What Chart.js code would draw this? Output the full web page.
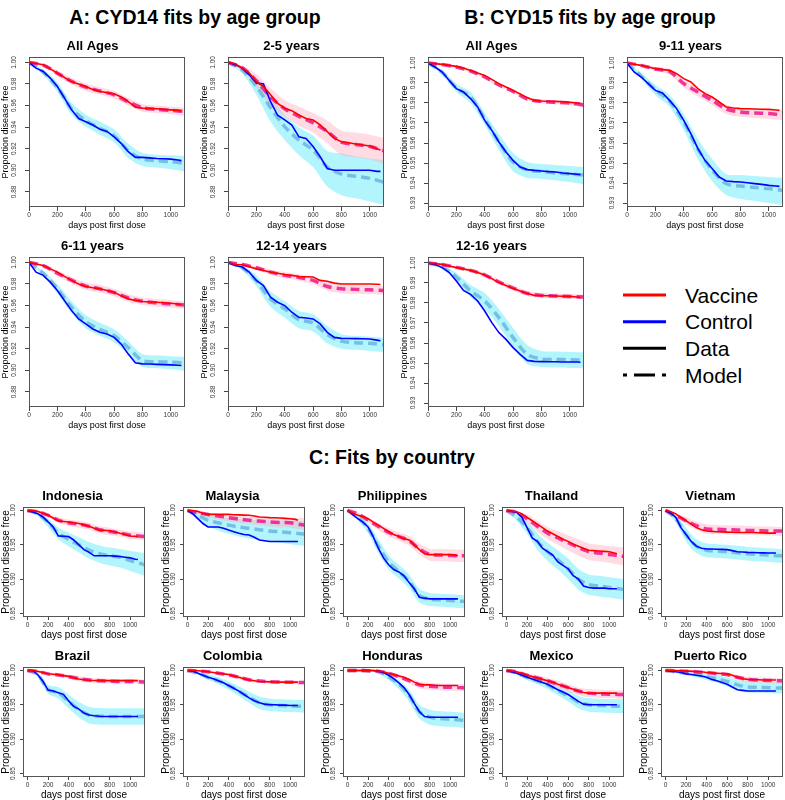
<!DOCTYPE html>
<html>
<head>
<meta charset="utf-8">
<script src="https://cdn.jsdelivr.net/npm/chart.js@4/dist/chart.umd.min.js"></script>
<style>
  body { margin: 0; width: 785px; height: 800px; position: relative; overflow: hidden; background: #fff;
         font-family: "Liberation Sans", Arial, sans-serif; }
  canvas { position: absolute; }
  .heading { position: absolute; font-weight: bold; font-size: 19.5px; line-height: 1; white-space: nowrap;
             transform: translate(-50%, -50%); color: #000; }
  #legend { position: absolute; left: 610px; top: 275px; }
</style>
</head>
<body>
<div class="heading" style="left:195px; top:18px;">A: CYD14 fits by age group</div>
<div class="heading" style="left:590px; top:18px;">B: CYD15 fits by age group</div>
<div class="heading" style="left:392px; top:458px;">C: Fits by country</div>

<svg id="legend" width="175" height="120" xmlns="http://www.w3.org/2000/svg">
  <g stroke-width="3">
    <line x1="13" y1="20" x2="56" y2="20" stroke="#ff0000"/>
    <line x1="13" y1="46.7" x2="56" y2="46.7" stroke="#0000ff"/>
    <line x1="13" y1="73.3" x2="56" y2="73.3" stroke="#000"/>
    <line x1="13" y1="100" x2="56" y2="100" stroke="#000" stroke-dasharray="4 7 21 7 4"/>
  </g>
  <g font-family="Liberation Sans, Arial, sans-serif" font-size="21" fill="#000">
    <text x="75" y="27.5">Vaccine</text>
    <text x="75" y="54.2">Control</text>
    <text x="75" y="80.8">Data</text>
    <text x="75" y="107.5">Model</text>
  </g>
</svg>

<script>
// shared axes
const dataDays = [0, 50, 100, 150, 200, 250, 300, 350, 400, 450, 500, 550, 600, 650, 700, 750, 800, 850, 900, 950, 1000, 1050, 1075];
const modelDays = [0, 100, 200, 300, 400, 500, 600, 700, 800, 900, 1000, 1100, 1150];
const xTickVals = [0, 200, 400, 600, 800, 1000];
const yTicksA = [0.88, 0.90, 0.92, 0.94, 0.96, 0.98, 1.00];
const yTicksB = [0.93, 0.94, 0.95, 0.96, 0.97, 0.98, 0.99, 1.00];
const yTicksC = [0.85, 0.90, 0.95, 1.00];

// --- A: CYD14, All Ages ---
const a1DataV = [1.0, 0.999, 0.9978, 0.994, 0.990, 0.986, 0.982, 0.980, 0.9777, 0.975, 0.973, 0.972, 0.971, 0.968, 0.9637, 0.9585, 0.9576, 0.9573, 0.957, 0.9565, 0.956, 0.9555, 0.955];
const a1DataC = [1.0, 0.9947, 0.9916, 0.9855, 0.9777, 0.967, 0.956, 0.948, 0.945, 0.942, 0.938, 0.936, 0.931, 0.925, 0.9172, 0.912, 0.912, 0.9115, 0.911, 0.9107, 0.9104, 0.9095, 0.909];
const a1ModelV = [1.0, 0.9975, 0.990, 0.9825, 0.977, 0.9735, 0.970, 0.9635, 0.958, 0.9565, 0.9555, 0.9545, 0.954];
const a1ModelC = [1.0, 0.991, 0.977, 0.957, 0.946, 0.939, 0.932, 0.918, 0.9105, 0.909, 0.908, 0.9065, 0.906];
const a1BandVHi = [1.0, 0.9985, 0.9925, 0.9855, 0.9805, 0.977, 0.9735, 0.967, 0.9615, 0.960, 0.959, 0.9585, 0.958];
const a1BandVLo = [1.0, 0.9965, 0.9875, 0.9795, 0.9735, 0.970, 0.9665, 0.960, 0.9545, 0.953, 0.952, 0.9505, 0.950];
const a1BandCHi = [1.0, 0.9935, 0.9815, 0.9625, 0.9515, 0.945, 0.938, 0.9245, 0.916, 0.9145, 0.914, 0.9135, 0.913];
const a1BandCLo = [1.0, 0.9885, 0.9725, 0.9515, 0.9405, 0.933, 0.926, 0.9115, 0.904, 0.9025, 0.901, 0.899, 0.898];

// --- A: CYD14, 2-5 years ---
const a2DataV = [1.0, 0.9988, 0.9947, 0.990, 0.982, 0.9777, 0.970, 0.962, 0.9575, 0.9553, 0.9513, 0.948, 0.9467, 0.942, 0.9358, 0.9296, 0.9265, 0.9255, 0.9244, 0.9235, 0.9225, 0.920, 0.9188];
const a2DataC = [1.0, 0.998, 0.9947, 0.9885, 0.981, 0.980, 0.9637, 0.951, 0.9467, 0.942, 0.931, 0.9296, 0.922, 0.9126, 0.9017, 0.900, 0.900, 0.900, 0.900, 0.900, 0.900, 0.899, 0.899];
const a2ModelV = [1.0, 0.995, 0.983, 0.968, 0.957, 0.950, 0.944, 0.936, 0.926, 0.924, 0.922, 0.918, 0.916];
const a2ModelC = [1.0, 0.993, 0.978, 0.958, 0.9405, 0.928, 0.9188, 0.903, 0.8965, 0.8945, 0.8925, 0.889, 0.888];
const a2BandVHi = [1.0, 0.997, 0.989, 0.976, 0.965, 0.959, 0.953, 0.946, 0.937, 0.935, 0.933, 0.930, 0.929];
const a2BandVLo = [1.0, 0.993, 0.977, 0.960, 0.950, 0.941, 0.935, 0.925, 0.914, 0.912, 0.910, 0.906, 0.904];
const a2BandCHi = [1.0, 0.996, 0.985, 0.969, 0.951, 0.940, 0.932, 0.918, 0.9157, 0.913, 0.911, 0.9095, 0.909];
const a2BandCLo = [1.0, 0.990, 0.970, 0.945, 0.928, 0.914, 0.903, 0.885, 0.877, 0.874, 0.871, 0.868, 0.867];

// --- A: CYD14, 6-11 years ---
const a3DataV = [1.0, 0.9985, 0.9972, 0.994, 0.991, 0.987, 0.9833, 0.980, 0.9777, 0.9765, 0.9755, 0.974, 0.9724, 0.969, 0.9662, 0.9647, 0.9637, 0.9633, 0.963, 0.9626, 0.9622, 0.9615, 0.961];
const a3DataC = [1.0, 0.991, 0.988, 0.9817, 0.974, 0.9647, 0.9553, 0.9476, 0.943, 0.9383, 0.9352, 0.9337, 0.9305, 0.9243, 0.915, 0.907, 0.906, 0.9058, 0.9055, 0.9053, 0.905, 0.9047, 0.9045];
const a3ModelV = [1.0, 0.997, 0.990, 0.9835, 0.978, 0.9755, 0.972, 0.967, 0.964, 0.9625, 0.9615, 0.9605, 0.960];
const a3ModelC = [1.0, 0.990, 0.9755, 0.9585, 0.945, 0.938, 0.932, 0.921, 0.909, 0.908, 0.9075, 0.907, 0.9068];
const a3BandVHi = [1.0, 0.998, 0.9925, 0.9865, 0.9815, 0.979, 0.9755, 0.9705, 0.9675, 0.966, 0.965, 0.964, 0.9635];
const a3BandVLo = [1.0, 0.996, 0.9875, 0.9805, 0.9745, 0.972, 0.9685, 0.9635, 0.9605, 0.959, 0.958, 0.957, 0.9565];
const a3BandCHi = [1.0, 0.992, 0.980, 0.964, 0.951, 0.944, 0.938, 0.927, 0.915, 0.914, 0.913, 0.9125, 0.912];
const a3BandCLo = [1.0, 0.988, 0.971, 0.953, 0.939, 0.932, 0.926, 0.915, 0.903, 0.902, 0.901, 0.8995, 0.899];

// --- A: CYD14, 12-14 years ---
const a4DataV = [1.0, 0.998, 0.9978, 0.996, 0.994, 0.9925, 0.991, 0.990, 0.9888, 0.988, 0.987, 0.9867, 0.9864, 0.9833, 0.9826, 0.9808, 0.980, 0.980, 0.980, 0.980, 0.980, 0.9797, 0.9795];
const a4DataC = [1.0, 0.9972, 0.9957, 0.991, 0.9833, 0.9786, 0.9678, 0.9631, 0.960, 0.9538, 0.9491, 0.9485, 0.9476, 0.943, 0.9352, 0.9305, 0.9296, 0.9295, 0.9294, 0.9292, 0.929, 0.928, 0.9274];
const a4ModelV = [1.0, 0.998, 0.995, 0.991, 0.988, 0.986, 0.9833, 0.9777, 0.9755, 0.975, 0.9746, 0.974, 0.9738];
const a4ModelC = [1.0, 0.995, 0.983, 0.966, 0.957, 0.947, 0.944, 0.933, 0.927, 0.9255, 0.925, 0.9237, 0.923];
const a4BandVHi = [1.0, 0.9988, 0.9965, 0.9935, 0.991, 0.989, 0.9865, 0.9815, 0.9795, 0.979, 0.9787, 0.978, 0.9778];
const a4BandVLo = [1.0, 0.997, 0.9935, 0.9885, 0.985, 0.983, 0.980, 0.974, 0.9715, 0.971, 0.9705, 0.970, 0.9698];
const a4BandCHi = [1.0, 0.997, 0.988, 0.973, 0.964, 0.955, 0.952, 0.941, 0.9335, 0.932, 0.931, 0.930, 0.9295];
const a4BandCLo = [1.0, 0.993, 0.978, 0.959, 0.949, 0.939, 0.936, 0.925, 0.920, 0.919, 0.918, 0.917, 0.9165];

// --- B: CYD15, All Ages ---
const b1DataV = [1.0, 0.9997, 0.9993, 0.9988, 0.9983, 0.9975, 0.9963, 0.995, 0.9938, 0.9918, 0.9897, 0.988, 0.9863, 0.9845, 0.9827, 0.9813, 0.981, 0.9809, 0.9808, 0.9806, 0.9803, 0.980, 0.9797];
const b1DataC = [1.0, 0.998, 0.9955, 0.9913, 0.9872, 0.9855, 0.9822, 0.978, 0.9713, 0.9663, 0.9605, 0.9555, 0.9513, 0.948, 0.9467, 0.9463, 0.946, 0.9457, 0.9455, 0.945, 0.9447, 0.9444, 0.9442];
const b1ModelV = [1.0, 0.9992, 0.998, 0.996, 0.993, 0.989, 0.9858, 0.982, 0.9808, 0.9803, 0.980, 0.979, 0.9788];
const b1ModelC = [1.0, 0.9953, 0.9875, 0.983, 0.972, 0.9605, 0.9505, 0.9465, 0.9458, 0.945, 0.9445, 0.944, 0.9438];
const b1BandVHi = [1.0, 0.9995, 0.9986, 0.9968, 0.9938, 0.9898, 0.9866, 0.9828, 0.9817, 0.9812, 0.981, 0.9802, 0.980];
const b1BandVLo = [1.0, 0.9989, 0.9974, 0.9952, 0.9922, 0.9882, 0.985, 0.9812, 0.9799, 0.9794, 0.979, 0.9778, 0.9775];
const b1BandCHi = [1.0, 0.9965, 0.9895, 0.9855, 0.975, 0.9645, 0.955, 0.9505, 0.9495, 0.949, 0.9485, 0.948, 0.9478];
const b1BandCLo = [1.0, 0.994, 0.9855, 0.980, 0.969, 0.9565, 0.946, 0.9425, 0.942, 0.9413, 0.9405, 0.9393, 0.939];

// --- B: CYD15, 9-11 years ---
const b2DataV = [1.0, 0.9994, 0.9988, 0.998, 0.9972, 0.9967, 0.9963, 0.9947, 0.9922, 0.9905, 0.9872, 0.9847, 0.983, 0.9805, 0.978, 0.9775, 0.9772, 0.9771, 0.977, 0.9769, 0.9768, 0.9765, 0.9763];
const b2DataC = [1.0, 0.9955, 0.993, 0.9897, 0.9863, 0.985, 0.9813, 0.9772, 0.9713, 0.9647, 0.9572, 0.9513, 0.9472, 0.943, 0.941, 0.9407, 0.9405, 0.9401, 0.9397, 0.9393, 0.9388, 0.9385, 0.9383];
const b2ModelV = [1.0, 0.9988, 0.997, 0.9958, 0.9897, 0.9855, 0.9813, 0.977, 0.9755, 0.975, 0.9747, 0.974, 0.9738];
const b2ModelC = [1.0, 0.9935, 0.9865, 0.981, 0.9705, 0.957, 0.9465, 0.9397, 0.9385, 0.9378, 0.9372, 0.9363, 0.936];
const b2BandVHi = [1.0, 0.9992, 0.998, 0.9972, 0.9915, 0.9875, 0.9835, 0.979, 0.9777, 0.9773, 0.977, 0.9765, 0.9763];
const b2BandVLo = [1.0, 0.9984, 0.996, 0.9942, 0.9878, 0.9833, 0.979, 0.9745, 0.9731, 0.9725, 0.972, 0.9715, 0.9712];
const b2BandCHi = [1.0, 0.995, 0.989, 0.984, 0.9745, 0.962, 0.952, 0.9445, 0.944, 0.9435, 0.943, 0.9425, 0.9422];
const b2BandCLo = [1.0, 0.992, 0.984, 0.978, 0.9665, 0.952, 0.941, 0.934, 0.932, 0.931, 0.930, 0.929, 0.9285];

// --- B: CYD15, 12-16 years ---
const b3DataV = [1.0, 0.9997, 0.9993, 0.9985, 0.9977, 0.997, 0.9963, 0.9952, 0.994, 0.9922, 0.9902, 0.9887, 0.9873, 0.986, 0.9847, 0.9838, 0.9837, 0.9836, 0.9835, 0.9834, 0.9833, 0.983, 0.9827];
const b3DataC = [1.0, 0.9993, 0.9977, 0.9952, 0.991, 0.9863, 0.9843, 0.981, 0.976, 0.9702, 0.9652, 0.9618, 0.9577, 0.9543, 0.9513, 0.9508, 0.9507, 0.9506, 0.9506, 0.9505, 0.9505, 0.9505, 0.9504];
const b3ModelV = [1.0, 0.9993, 0.9978, 0.9963, 0.994, 0.9905, 0.9875, 0.9848, 0.9838, 0.9835, 0.9833, 0.983, 0.9829];
const b3ModelC = [1.0, 0.998, 0.993, 0.986, 0.981, 0.9727, 0.9627, 0.9543, 0.952, 0.9518, 0.9516, 0.9515, 0.9514];
const b3BandVHi = [1.0, 0.9995, 0.9984, 0.9971, 0.995, 0.9917, 0.9888, 0.9861, 0.985, 0.9847, 0.9845, 0.9843, 0.9842];
const b3BandVLo = [1.0, 0.999, 0.9972, 0.9955, 0.993, 0.9893, 0.9862, 0.9835, 0.9826, 0.9823, 0.9821, 0.9818, 0.9817];
const b3BandCHi = [1.0, 0.9987, 0.995, 0.989, 0.985, 0.977, 0.9675, 0.959, 0.956, 0.9557, 0.9555, 0.9553, 0.9552];
const b3BandCLo = [1.0, 0.9973, 0.991, 0.983, 0.977, 0.9685, 0.958, 0.9495, 0.948, 0.9477, 0.9475, 0.9473, 0.9472];

// --- C: Indonesia ---
const idnDataV = [1.0, 0.9995, 0.9986, 0.996, 0.9929, 0.989, 0.9848, 0.984, 0.9833, 0.982, 0.981, 0.979, 0.977, 0.974, 0.9714, 0.971, 0.9705, 0.969, 0.9667, 0.965, 0.9629, 0.9623, 0.962];
const idnDataC = [1.0, 0.9976, 0.9952, 0.9905, 0.9833, 0.976, 0.963, 0.9625, 0.962, 0.957, 0.950, 0.943, 0.939, 0.934, 0.934, 0.934, 0.934, 0.9335, 0.933, 0.932, 0.931, 0.929, 0.9286];
const idnModelV = [1.0, 0.998, 0.993, 0.986, 0.982, 0.980, 0.977, 0.972, 0.9695, 0.967, 0.964, 0.9625, 0.962];
const idnModelC = [1.0, 0.995, 0.983, 0.967, 0.958, 0.950, 0.942, 0.937, 0.934, 0.932, 0.927, 0.923, 0.920];
const idnBandVHi = [1.0, 0.999, 0.996, 0.990, 0.9865, 0.985, 0.982, 0.977, 0.975, 0.972, 0.9695, 0.968, 0.9675];
const idnBandVLo = [1.0, 0.997, 0.990, 0.982, 0.9775, 0.975, 0.972, 0.967, 0.964, 0.962, 0.9585, 0.957, 0.956];
const idnBandCHi = [1.0, 0.997, 0.988, 0.975, 0.968, 0.961, 0.954, 0.949, 0.946, 0.944, 0.941, 0.939, 0.938];
const idnBandCLo = [1.0, 0.992, 0.976, 0.958, 0.948, 0.939, 0.930, 0.924, 0.920, 0.917, 0.912, 0.907, 0.904];

// --- C: Malaysia ---
const mysDataV = [1.0, 0.9995, 0.9986, 0.996, 0.9943, 0.9943, 0.9943, 0.9943, 0.9943, 0.9938, 0.9935, 0.9932, 0.9929, 0.992, 0.9905, 0.990, 0.9895, 0.9893, 0.989, 0.9885, 0.988, 0.987, 0.9857];
const mysDataC = [1.0, 0.9952, 0.988, 0.981, 0.976, 0.976, 0.976, 0.974, 0.9714, 0.969, 0.9667, 0.965, 0.9643, 0.961, 0.957, 0.956, 0.9548, 0.9548, 0.9548, 0.9548, 0.9548, 0.9548, 0.9548];
const mysModelV = [1.0, 0.997, 0.994, 0.992, 0.9895, 0.9875, 0.9857, 0.9845, 0.9833, 0.9825, 0.982, 0.9795, 0.9786];
const mysModelC = [1.0, 0.993, 0.9857, 0.982, 0.9786, 0.976, 0.974, 0.972, 0.970, 0.969, 0.9676, 0.966, 0.9652];
const mysBandVHi = [1.0, 0.9985, 0.9965, 0.995, 0.993, 0.992, 0.991, 0.9905, 0.990, 0.9897, 0.9895, 0.989, 0.9888];
const mysBandVLo = [1.0, 0.995, 0.990, 0.987, 0.984, 0.982, 0.980, 0.978, 0.9765, 0.9755, 0.975, 0.9725, 0.972];
const mysBandCHi = [1.0, 0.997, 0.993, 0.991, 0.989, 0.9875, 0.9865, 0.986, 0.9855, 0.985, 0.9848, 0.9845, 0.9843];
const mysBandCLo = [1.0, 0.988, 0.977, 0.971, 0.966, 0.962, 0.959, 0.957, 0.955, 0.953, 0.951, 0.949, 0.948];

// --- C: Philippines ---
const phlDataV = [1.0, 0.996, 0.9929, 0.991, 0.988, 0.983, 0.9786, 0.974, 0.969, 0.965, 0.962, 0.959, 0.957, 0.950, 0.943, 0.937, 0.9357, 0.9357, 0.9357, 0.9357, 0.9357, 0.935, 0.934];
const phlDataC = [1.0, 0.994, 0.988, 0.983, 0.976, 0.962, 0.945, 0.931, 0.921, 0.914, 0.9105, 0.905, 0.895, 0.886, 0.8738, 0.8724, 0.8714, 0.8714, 0.8714, 0.8714, 0.8714, 0.8714, 0.8714];
const phlModelV = [1.0, 0.995, 0.986, 0.977, 0.968, 0.962, 0.956, 0.944, 0.936, 0.935, 0.9345, 0.934, 0.934];
const phlModelC = [1.0, 0.990, 0.974, 0.948, 0.925, 0.911, 0.897, 0.876, 0.871, 0.870, 0.869, 0.868, 0.8675];
const phlBandVHi = [1.0, 0.997, 0.990, 0.982, 0.974, 0.968, 0.963, 0.952, 0.944, 0.944, 0.9435, 0.943, 0.943];
const phlBandVLo = [1.0, 0.993, 0.982, 0.972, 0.962, 0.956, 0.949, 0.936, 0.927, 0.926, 0.9255, 0.925, 0.925];
const phlBandCHi = [1.0, 0.994, 0.981, 0.958, 0.935, 0.921, 0.907, 0.886, 0.880, 0.879, 0.878, 0.877, 0.8765];
const phlBandCLo = [1.0, 0.986, 0.967, 0.938, 0.915, 0.901, 0.887, 0.866, 0.861, 0.860, 0.859, 0.858, 0.857];

// --- C: Thailand ---
const thaDataV = [1.0, 0.999, 0.998, 0.995, 0.990, 0.985, 0.980, 0.975, 0.970, 0.966, 0.962, 0.958, 0.955, 0.951, 0.948, 0.945, 0.942, 0.9415, 0.941, 0.9405, 0.940, 0.938, 0.937];
const thaDataC = [1.0, 0.999, 0.997, 0.990, 0.975, 0.960, 0.955, 0.945, 0.940, 0.935, 0.925, 0.920, 0.915, 0.905, 0.900, 0.890, 0.888, 0.887, 0.887, 0.887, 0.886, 0.886, 0.886];
const thaModelV = [1.0, 0.997, 0.988, 0.977, 0.967, 0.960, 0.953, 0.946, 0.940, 0.938, 0.936, 0.934, 0.933];
const thaModelC = [1.0, 0.990, 0.975, 0.955, 0.940, 0.928, 0.915, 0.900, 0.892, 0.890, 0.888, 0.886, 0.885];
const thaBandVHi = [1.0, 0.999, 0.994, 0.985, 0.976, 0.970, 0.964, 0.958, 0.952, 0.950, 0.948, 0.947, 0.946];
const thaBandVLo = [1.0, 0.995, 0.982, 0.969, 0.958, 0.950, 0.942, 0.934, 0.928, 0.926, 0.924, 0.921, 0.920];
const thaBandCHi = [1.0, 0.995, 0.984, 0.967, 0.953, 0.942, 0.930, 0.915, 0.907, 0.905, 0.903, 0.901, 0.900];
const thaBandCLo = [1.0, 0.985, 0.966, 0.943, 0.927, 0.914, 0.900, 0.885, 0.877, 0.875, 0.873, 0.871, 0.870];

// --- C: Vietnam ---
const vnmDataV = [1.0, 0.998, 0.995, 0.990, 0.985, 0.980, 0.975, 0.972, 0.970, 0.9695, 0.969, 0.9688, 0.9685, 0.9683, 0.968, 0.968, 0.968, 0.9678, 0.9675, 0.9673, 0.967, 0.967, 0.967];
const vnmDataC = [1.0, 0.996, 0.990, 0.975, 0.965, 0.955, 0.948, 0.945, 0.944, 0.9438, 0.9435, 0.9433, 0.943, 0.9415, 0.940, 0.9395, 0.939, 0.9388, 0.9385, 0.9383, 0.938, 0.938, 0.938];
const vnmModelV = [1.0, 0.993, 0.985, 0.978, 0.973, 0.9725, 0.972, 0.9715, 0.971, 0.9705, 0.970, 0.970, 0.970];
const vnmModelC = [1.0, 0.988, 0.965, 0.948, 0.942, 0.941, 0.940, 0.9385, 0.937, 0.936, 0.935, 0.934, 0.934];
const vnmBandVHi = [1.0, 0.996, 0.990, 0.984, 0.980, 0.979, 0.9785, 0.978, 0.9775, 0.977, 0.9765, 0.976, 0.976];
const vnmBandVLo = [1.0, 0.990, 0.980, 0.972, 0.966, 0.966, 0.9655, 0.965, 0.9645, 0.964, 0.9635, 0.963, 0.963];
const vnmBandCHi = [1.0, 0.993, 0.975, 0.958, 0.952, 0.951, 0.950, 0.9485, 0.947, 0.946, 0.945, 0.944, 0.944];
const vnmBandCLo = [1.0, 0.983, 0.955, 0.938, 0.932, 0.931, 0.930, 0.9285, 0.927, 0.926, 0.925, 0.924, 0.924];

// --- C: Brazil ---
const braDataV = [1.0, 1.0, 0.9986, 0.997, 0.9952, 0.9945, 0.9938, 0.9925, 0.9914, 0.9895, 0.9876, 0.9865, 0.9857, 0.9853, 0.9852, 0.9852, 0.9852, 0.9852, 0.9852, 0.9852, 0.9852, 0.9852, 0.9852];
const braDataC = [1.0, 1.0, 0.9938, 0.9843, 0.9714, 0.970, 0.9676, 0.9652, 0.9557, 0.9476, 0.9438, 0.938, 0.9352, 0.934, 0.9333, 0.933, 0.9329, 0.9329, 0.9329, 0.9329, 0.9329, 0.9329, 0.9329];
const braModelV = [1.0, 0.9985, 0.995, 0.9935, 0.991, 0.988, 0.986, 0.985, 0.9845, 0.984, 0.984, 0.9835, 0.983];
const braModelC = [1.0, 0.994, 0.972, 0.9675, 0.955, 0.943, 0.935, 0.9335, 0.933, 0.933, 0.933, 0.933, 0.933];
const braBandVHi = [1.0, 0.9992, 0.997, 0.996, 0.994, 0.9915, 0.9895, 0.9885, 0.988, 0.9875, 0.9875, 0.987, 0.9865];
const braBandVLo = [1.0, 0.998, 0.993, 0.991, 0.988, 0.9845, 0.9825, 0.9815, 0.981, 0.9805, 0.9805, 0.980, 0.9795];
const braBandCHi = [1.0, 0.997, 0.979, 0.976, 0.965, 0.954, 0.947, 0.9455, 0.945, 0.945, 0.945, 0.945, 0.945];
const braBandCLo = [1.0, 0.991, 0.966, 0.959, 0.945, 0.932, 0.923, 0.9215, 0.921, 0.921, 0.921, 0.921, 0.921];

// --- C: Colombia ---
const colDataV = [1.0, 1.0, 0.9995, 0.999, 0.998, 0.997, 0.996, 0.995, 0.994, 0.992, 0.990, 0.988, 0.986, 0.985, 0.984, 0.9835, 0.9833, 0.9832, 0.983, 0.983, 0.983, 0.983, 0.983];
const colDataC = [1.0, 0.999, 0.996, 0.993, 0.990, 0.988, 0.985, 0.982, 0.978, 0.974, 0.970, 0.965, 0.960, 0.956, 0.953, 0.951, 0.950, 0.950, 0.9495, 0.9495, 0.949, 0.949, 0.949];
const colModelV = [1.0, 0.9993, 0.998, 0.996, 0.9935, 0.990, 0.9865, 0.9845, 0.9835, 0.983, 0.9828, 0.9825, 0.9823];
const colModelC = [1.0, 0.996, 0.990, 0.985, 0.978, 0.970, 0.961, 0.953, 0.950, 0.949, 0.9485, 0.948, 0.948];
const colBandVHi = [1.0, 0.9997, 0.999, 0.9975, 0.9955, 0.9925, 0.989, 0.987, 0.986, 0.9855, 0.9853, 0.985, 0.9848];
const colBandVLo = [1.0, 0.999, 0.997, 0.9945, 0.9915, 0.9875, 0.984, 0.982, 0.981, 0.9805, 0.9803, 0.980, 0.9798];
const colBandCHi = [1.0, 0.998, 0.994, 0.990, 0.984, 0.977, 0.969, 0.962, 0.959, 0.958, 0.9575, 0.957, 0.957];
const colBandCLo = [1.0, 0.994, 0.986, 0.980, 0.972, 0.963, 0.953, 0.944, 0.941, 0.940, 0.9395, 0.939, 0.939];

// --- C: Honduras ---
const hndDataV = [1.0, 1.0, 1.0, 1.0, 1.0, 1.0, 0.999, 0.998, 0.996, 0.994, 0.992, 0.990, 0.987, 0.983, 0.980, 0.979, 0.979, 0.9785, 0.978, 0.978, 0.978, 0.978, 0.978];
const hndDataC = [1.0, 1.0, 1.0, 1.0, 1.0, 1.0, 0.999, 0.997, 0.993, 0.988, 0.982, 0.975, 0.965, 0.952, 0.940, 0.933, 0.932, 0.932, 0.932, 0.932, 0.932, 0.932, 0.932];
const hndModelV = [1.0, 1.0, 0.9995, 0.999, 0.996, 0.991, 0.985, 0.979, 0.977, 0.976, 0.9755, 0.975, 0.975];
const hndModelC = [1.0, 1.0, 0.9995, 0.998, 0.991, 0.980, 0.964, 0.940, 0.932, 0.930, 0.929, 0.928, 0.927];
const hndBandVHi = [1.0, 1.0, 0.9998, 0.9995, 0.998, 0.994, 0.989, 0.984, 0.982, 0.981, 0.9805, 0.980, 0.980];
const hndBandVLo = [1.0, 1.0, 0.999, 0.998, 0.994, 0.988, 0.981, 0.974, 0.972, 0.971, 0.9705, 0.970, 0.970];
const hndBandCHi = [1.0, 1.0, 0.9998, 0.999, 0.995, 0.986, 0.972, 0.950, 0.943, 0.941, 0.940, 0.939, 0.938];
const hndBandCLo = [1.0, 1.0, 0.999, 0.996, 0.986, 0.973, 0.955, 0.930, 0.921, 0.919, 0.918, 0.917, 0.916];

// --- C: Mexico ---
const mexDataV = [1.0, 0.999, 0.998, 0.996, 0.993, 0.991, 0.989, 0.987, 0.985, 0.983, 0.980, 0.9775, 0.975, 0.9725, 0.970, 0.968, 0.967, 0.967, 0.967, 0.967, 0.967, 0.967, 0.967];
const mexDataC = [1.0, 0.998, 0.996, 0.993, 0.990, 0.9875, 0.985, 0.9825, 0.980, 0.976, 0.972, 0.9685, 0.965, 0.960, 0.955, 0.951, 0.950, 0.950, 0.950, 0.950, 0.950, 0.950, 0.950];
const mexModelV = [1.0, 0.998, 0.993, 0.989, 0.985, 0.980, 0.975, 0.970, 0.967, 0.966, 0.9655, 0.965, 0.965];
const mexModelC = [1.0, 0.996, 0.990, 0.985, 0.979, 0.971, 0.963, 0.954, 0.950, 0.949, 0.9485, 0.948, 0.948];
const mexBandVHi = [1.0, 0.999, 0.996, 0.993, 0.989, 0.985, 0.980, 0.975, 0.973, 0.972, 0.9715, 0.971, 0.971];
const mexBandVLo = [1.0, 0.997, 0.990, 0.985, 0.980, 0.975, 0.969, 0.964, 0.961, 0.960, 0.9595, 0.959, 0.959];
const mexBandCHi = [1.0, 0.998, 0.994, 0.990, 0.985, 0.978, 0.971, 0.963, 0.960, 0.959, 0.9585, 0.958, 0.958];
const mexBandCLo = [1.0, 0.994, 0.986, 0.980, 0.973, 0.964, 0.955, 0.945, 0.940, 0.939, 0.9385, 0.938, 0.938];

// --- C: Puerto Rico ---
const priDataV = [1.0, 1.0, 1.0, 0.9995, 0.999, 0.999, 0.998, 0.998, 0.997, 0.9965, 0.996, 0.9955, 0.995, 0.993, 0.990, 0.988, 0.987, 0.9865, 0.9865, 0.986, 0.986, 0.986, 0.986];
const priDataC = [1.0, 0.999, 0.998, 0.997, 0.995, 0.994, 0.993, 0.992, 0.990, 0.987, 0.985, 0.9825, 0.980, 0.976, 0.972, 0.971, 0.970, 0.970, 0.970, 0.970, 0.970, 0.970, 0.970];
const priModelV = [1.0, 0.9995, 0.999, 0.998, 0.997, 0.9955, 0.994, 0.990, 0.987, 0.986, 0.9855, 0.985, 0.985];
const priModelC = [1.0, 0.998, 0.996, 0.994, 0.991, 0.988, 0.984, 0.979, 0.976, 0.9755, 0.975, 0.9745, 0.9745];
const priBandVHi = [1.0, 0.9998, 0.9995, 0.999, 0.9985, 0.9975, 0.9965, 0.9935, 0.991, 0.990, 0.9895, 0.989, 0.989];
const priBandVLo = [1.0, 0.999, 0.998, 0.996, 0.995, 0.993, 0.991, 0.986, 0.983, 0.982, 0.9815, 0.981, 0.981];
const priBandCHi = [1.0, 0.999, 0.998, 0.997, 0.995, 0.993, 0.990, 0.986, 0.984, 0.9835, 0.983, 0.9825, 0.9825];
const priBandCLo = [1.0, 0.997, 0.993, 0.990, 0.986, 0.982, 0.977, 0.971, 0.968, 0.9675, 0.967, 0.9665, 0.9665];

(function () {
  const FONT = "'Liberation Sans', Arial, sans-serif";
  Chart.defaults.font.family = FONT;
  Chart.defaults.color = '#000';

  // panel geometry per group (box = plot region in page pixels)
  const kinds = {
    A: { w: 156, h: 150, yMin: 0.866, yMax: 1.005, yTicks: yTicksA, xMin: 0, xMax: 1100,
         padL: 29, padB: 24, tickFont: 6.5, axisFont: 9, tl: 4, yPad: 4, xPad: 0 },
    B: { w: 156, h: 150, yMin: 0.928, yMax: 1.003, yTicks: yTicksB, xMin: 0, xMax: 1100,
         padL: 29, padB: 24, tickFont: 6.5, axisFont: 9, tl: 4, yPad: 4, xPad: 0 },
    C: { w: 122, h: 110, yMin: 0.845, yMax: 1.005, yTicks: yTicksC, xMin: -44, xMax: 1144,
         padL: 23, padB: 24, tickFont: 6.5, axisFont: 10, tl: 3, yPad: 0, xPad: 1 }
  };

  const panels = [
    { kind: 'A', title: 'All Ages',    x: 29,  y: 57,  s: [a1DataV, a1DataC, a1ModelV, a1ModelC, a1BandVHi, a1BandVLo, a1BandCHi, a1BandCLo] },
    { kind: 'A', title: '2-5 years',   x: 228, y: 57,  s: [a2DataV, a2DataC, a2ModelV, a2ModelC, a2BandVHi, a2BandVLo, a2BandCHi, a2BandCLo] },
    { kind: 'B', title: 'All Ages',    x: 428, y: 57,  s: [b1DataV, b1DataC, b1ModelV, b1ModelC, b1BandVHi, b1BandVLo, b1BandCHi, b1BandCLo] },
    { kind: 'B', title: '9-11 years',  x: 627, y: 57,  s: [b2DataV, b2DataC, b2ModelV, b2ModelC, b2BandVHi, b2BandVLo, b2BandCHi, b2BandCLo] },
    { kind: 'A', title: '6-11 years',  x: 29,  y: 257, s: [a3DataV, a3DataC, a3ModelV, a3ModelC, a3BandVHi, a3BandVLo, a3BandCHi, a3BandCLo] },
    { kind: 'A', title: '12-14 years', x: 228, y: 257, s: [a4DataV, a4DataC, a4ModelV, a4ModelC, a4BandVHi, a4BandVLo, a4BandCHi, a4BandCLo] },
    { kind: 'B', title: '12-16 years', x: 428, y: 257, s: [b3DataV, b3DataC, b3ModelV, b3ModelC, b3BandVHi, b3BandVLo, b3BandCHi, b3BandCLo] },
    { kind: 'C', title: 'Indonesia',   x: 23,  y: 507, s: [idnDataV, idnDataC, idnModelV, idnModelC, idnBandVHi, idnBandVLo, idnBandCHi, idnBandCLo] },
    { kind: 'C', title: 'Malaysia',    x: 183, y: 507, s: [mysDataV, mysDataC, mysModelV, mysModelC, mysBandVHi, mysBandVLo, mysBandCHi, mysBandCLo] },
    { kind: 'C', title: 'Philippines', x: 343, y: 507, s: [phlDataV, phlDataC, phlModelV, phlModelC, phlBandVHi, phlBandVLo, phlBandCHi, phlBandCLo] },
    { kind: 'C', title: 'Thailand',    x: 502, y: 507, s: [thaDataV, thaDataC, thaModelV, thaModelC, thaBandVHi, thaBandVLo, thaBandCHi, thaBandCLo] },
    { kind: 'C', title: 'Vietnam',     x: 661, y: 507, s: [vnmDataV, vnmDataC, vnmModelV, vnmModelC, vnmBandVHi, vnmBandVLo, vnmBandCHi, vnmBandCLo] },
    { kind: 'C', title: 'Brazil',      x: 23,  y: 667, s: [braDataV, braDataC, braModelV, braModelC, braBandVHi, braBandVLo, braBandCHi, braBandCLo] },
    { kind: 'C', title: 'Colombia',    x: 183, y: 667, s: [colDataV, colDataC, colModelV, colModelC, colBandVHi, colBandVLo, colBandCHi, colBandCLo] },
    { kind: 'C', title: 'Honduras',    x: 343, y: 667, s: [hndDataV, hndDataC, hndModelV, hndModelC, hndBandVHi, hndBandVLo, hndBandCHi, hndBandCLo] },
    { kind: 'C', title: 'Mexico',      x: 502, y: 667, s: [mexDataV, mexDataC, mexModelV, mexModelC, mexBandVHi, mexBandVLo, mexBandCHi, mexBandCLo] },
    { kind: 'C', title: 'Puerto Rico', x: 661, y: 667, s: [priDataV, priDataC, priModelV, priModelC, priBandVHi, priBandVLo, priBandCHi, priBandCLo] }
  ];

  const xy = (days, vals) => vals.map((v, i) => ({ x: days[i], y: v }));

  // frame round the plot region, like R's box()
  const boxPlugin = {
    id: 'plotBox',
    afterDraw(chart) {
      const a = chart.chartArea;
      const ctx = chart.ctx;
      ctx.save();
      ctx.strokeStyle = '#555';
      ctx.lineWidth = 1;
      ctx.strokeRect(Math.round(a.left) + 0.5, Math.round(a.top) + 0.5,
                     Math.round(a.right - a.left) - 1, Math.round(a.bottom - a.top) - 1);
      ctx.restore();
    }
  };

  const TITLE_H = 18; // space above the plot box for the panel title
  const RIGHT = 3;

  panels.forEach(function (p) {
    const k = kinds[p.kind];
    const canvas = document.createElement('canvas');
    canvas.width = k.padL + k.w + RIGHT;
    canvas.height = TITLE_H + k.h + k.padB;
    canvas.style.left = (p.x - k.padL) + 'px';
    canvas.style.top = (p.y - TITLE_H) + 'px';
    document.body.appendChild(canvas);

    const [dataV, dataC, modelV, modelC, bandVHi, bandVLo, bandCHi, bandCLo] = p.s;
    const line = { pointRadius: 0, tension: 0, fill: false };

    const datasets = [
      Object.assign({ data: xy(dataDays, dataV), borderColor: '#ff0000', borderWidth: 1.6 }, line),
      Object.assign({ data: xy(dataDays, dataC), borderColor: '#0000ff', borderWidth: 1.6 }, line),
      Object.assign({ data: xy(modelDays, modelV), borderColor: 'rgba(240,20,140,0.85)', borderWidth: 3.5, borderDash: [9, 5] }, line),
      Object.assign({ data: xy(modelDays, modelC), borderColor: 'rgba(110,185,225,0.9)', borderWidth: 3.5, borderDash: [9, 5] }, line),
      { data: xy(modelDays, bandVHi), borderWidth: 0, pointRadius: 0, tension: 0.3, fill: '+1', backgroundColor: 'rgba(255,175,195,0.45)' },
      { data: xy(modelDays, bandVLo), borderWidth: 0, pointRadius: 0, tension: 0.3, fill: false },
      { data: xy(modelDays, bandCHi), borderWidth: 0, pointRadius: 0, tension: 0.3, fill: '+1', backgroundColor: 'rgba(0,222,245,0.3)' },
      { data: xy(modelDays, bandCLo), borderWidth: 0, pointRadius: 0, tension: 0.3, fill: false }
    ];
    datasets[2].tension = 0.3;
    datasets[3].tension = 0.3;

    new Chart(canvas, {
      type: 'line',
      data: { datasets: datasets },
      plugins: [boxPlugin],
      options: {
        responsive: false,
        animation: false,
        events: [],
        layout: { padding: { right: RIGHT } },
        plugins: {
          legend: { display: false },
          tooltip: { enabled: false },
          title: {
            display: true, text: p.title, color: '#000',
            font: { size: 13, weight: 'bold', lineHeight: 1.2 },
            padding: { top: 0, bottom: TITLE_H - 15.6 }
          }
        },
        scales: {
          x: {
            type: 'linear', min: k.xMin, max: k.xMax,
            afterBuildTicks: s => { s.ticks = xTickVals.map(v => ({ value: v })); },
            afterFit: s => { s.height = k.padB; s.paddingLeft = 0; s.paddingRight = 0; },
            grid: { display: true, drawOnChartArea: false, drawTicks: true, tickLength: k.tl, color: '#444' },
            border: { display: false },
            ticks: { font: { size: k.tickFont }, color: '#333', padding: k.xPad, maxRotation: 0, autoSkip: false,
                     callback: v => String(v) },
            title: { display: true, text: 'days post first dose', font: { size: k.axisFont }, padding: 0, color: '#000' }
          },
          y: {
            type: 'linear', min: k.yMin, max: k.yMax,
            afterBuildTicks: s => { s.ticks = k.yTicks.map(v => ({ value: v })); },
            afterFit: s => { s.width = k.padL; s.paddingTop = 0; s.paddingBottom = 0; },
            grid: { display: true, drawOnChartArea: false, drawTicks: true, tickLength: k.tl, color: '#444' },
            border: { display: false },
            ticks: { font: { size: k.tickFont }, color: '#333', padding: k.yPad, minRotation: 90, maxRotation: 90,
                     crossAlign: 'center', autoSkip: false, callback: v => v.toFixed(2) },
            title: { display: true, text: 'Proportion disease free', font: { size: k.axisFont }, padding: 0, color: '#000' }
          }
        }
      }
    });
  });
})();
</script>
</body>
</html>
